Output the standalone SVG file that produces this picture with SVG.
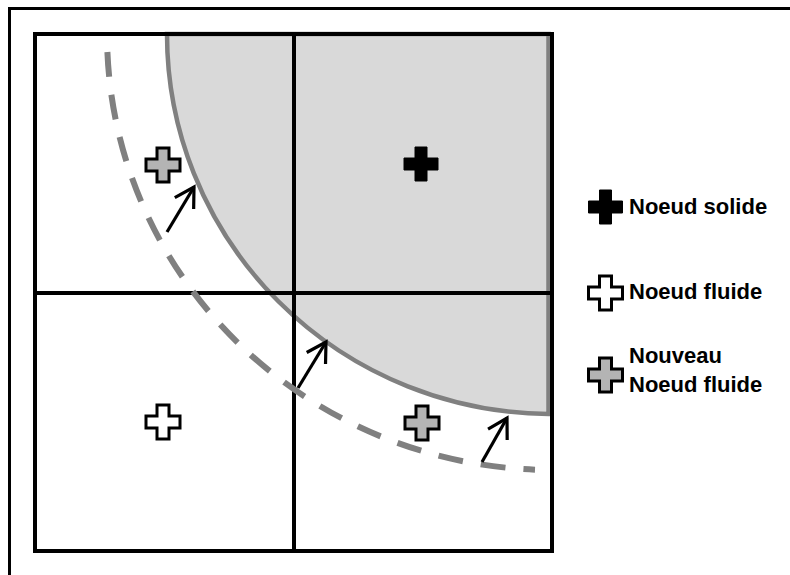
<svg xmlns="http://www.w3.org/2000/svg" width="790" height="575" viewBox="0 0 790 575">
  <style>
    .grid { fill: none; stroke: #000; stroke-width: 4; }
    .arrow { fill: none; stroke: #000; stroke-width: 3.2; }
    .lbl { font-family: "Liberation Sans", Arial, sans-serif; font-weight: bold; font-size: 22px; fill: #000; }
    .solid { fill: #000; stroke: #000; stroke-width: 1; }
    .fluid { fill: #fff; stroke: #000; stroke-width: 3; }
    .newfluid { fill: #b4b4b4; stroke: #000; stroke-width: 3; }
  </style>
  <defs>
    <path id="plus" d="M-6,-17 H6 V-6 H17 V6 H6 V17 H-6 V6 H-17 V-6 H-6 Z"/>
    <marker id="ah" markerUnits="userSpaceOnUse" markerWidth="30" markerHeight="30" viewBox="-25 -15 30 30" refX="0" refY="0" orient="auto" overflow="visible">
      <path d="M-19,-11 L0,0 L-19,11" fill="none" stroke="#000" stroke-width="3.2"/>
    </marker>
  </defs>
  <rect width="790" height="575" fill="#fff"/>
  <rect x="9.5" y="8.5" width="900" height="900" fill="none" stroke="#000" stroke-width="3"/>

  <g id="solid-region">
    <path d="M167,34 A385,380 0 0 0 548.5,414 L548.5,34 Z" fill="#d9d9d9" stroke="#808080" stroke-width="4.5"/>
  </g>

  <g id="grid">
    <rect class="grid" x="35" y="34" width="517" height="517"/>
    <line class="grid" x1="35" y1="293" x2="552" y2="293"/>
    <line class="grid" x1="294" y1="34" x2="294" y2="551"/>
  </g>

  <g id="new-boundary">
    <path d="M107.4,52 A445,436 0 0 0 535,469.7" fill="none" stroke="#808080" stroke-width="6" stroke-dasharray="25 18"/>
  </g>

  <g id="connectors">
    <line class="arrow" x1="167" y1="232" x2="194" y2="187" marker-end="url(#ah)"/>
    <line class="arrow" x1="298" y1="388" x2="326" y2="342" marker-end="url(#ah)"/>
    <line class="arrow" x1="482" y1="462" x2="507" y2="418" marker-end="url(#ah)"/>
  </g>

  <g id="node-solid"><use href="#plus" class="solid" x="421" y="164"/></g>
  <g id="node-fluid"><use href="#plus" class="fluid" x="163" y="422"/></g>
  <g id="node-new-fluid-1"><use href="#plus" class="newfluid" x="163" y="165"/></g>
  <g id="node-new-fluid-2"><use href="#plus" class="newfluid" x="422" y="423"/></g>

  <g id="legend-solid">
    <use href="#plus" class="solid" x="605.5" y="207"/>
    <text class="lbl" x="629" y="214">Noeud solide</text>
  </g>
  <g id="legend-fluid">
    <use href="#plus" class="fluid" x="605.5" y="293"/>
    <text class="lbl" x="629" y="299">Noeud fluide</text>
  </g>
  <g id="legend-new-fluid">
    <use href="#plus" class="newfluid" x="605.5" y="375"/>
    <text class="lbl" x="629" y="363">Nouveau</text>
    <text class="lbl" x="629" y="392">Noeud fluide</text>
  </g>
</svg>
